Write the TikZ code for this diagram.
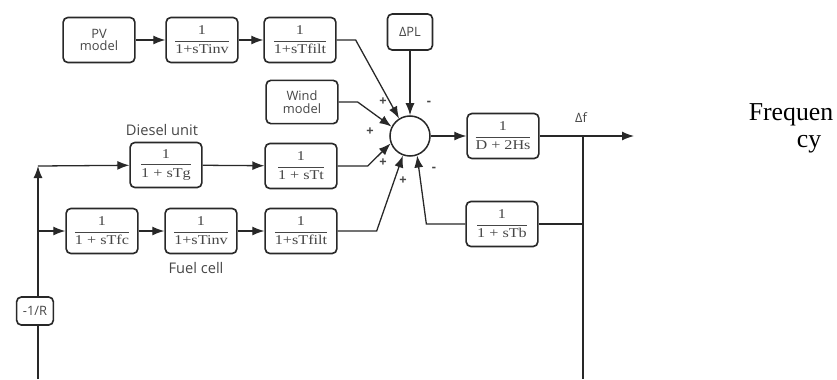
\documentclass[tikz,border=0pt]{standalone}
\usepackage{fontspec}
\setmainfont{Liberation Serif}
\newfontfamily\labfont{Open Sans}
\newfontfamily\fracfont[FakeStretch=1.2]{Liberation Serif}
\usepackage{xcolor}
\definecolor{lfline}{RGB}{40,40,40}
\definecolor{lftext}{RGB}{70,70,70}
\usepackage{tikz}
\usetikzlibrary{arrows.meta}

\newcommand{\tfblock}[1]{$\displaystyle\frac{\hbox{1}}{\hbox{#1}}$}

\begin{document}
\begin{tikzpicture}[x=0.3mm, y=-0.3mm,
  blk/.style={draw=lfline, line width=1.4pt, rounded corners=4pt, minimum width=21.5mm, minimum height=13.5mm, inner sep=1pt, text=lftext, font=\fracfont\fontsize{11.5}{12}\selectfont},
  lbl/.style={blk, align=center, font=\labfont\fontsize{11}{11}\selectfont},
  sumpt/.style={circle, draw=lfline, line width=1.3pt, minimum size=12mm, inner sep=0pt},
  wire/.style={draw=lfline, line width=1.1pt},
  arr/.style={wire, -{Latex[length=3.6mm, width=2.7mm]}},
  sgn/.style={text=lftext, font=\labfont\bfseries\fontsize{11}{11}\selectfont, inner sep=0pt},
  unitlbl/.style={text=lftext, font=\labfont\fontsize{12.5}{13}\selectfont, inner sep=0pt}]
  \useasboundingbox (0,0) rectangle (837,379);

  % blocks
  \node[lbl] (pv) at (99,40) {PV\\model};
  \node[blk] (inv1) at (202,40) {\tfblock{1+sTinv}};
  \node[blk] (filt1) at (300,40) {\tfblock{1+sTfilt}};
  \node[lbl, minimum width=13.5mm, minimum height=10.8mm] (dpl) at (410,32) {ΔPL};
  \node[lbl, minimum height=13mm] (wind) at (302,102) {Wind\\model};
  \node[sumpt] (sum) at (410,136) {};
  \node[blk] (gen) at (503,136) {\tfblock{D + 2Hs}};
  \node[blk] (tg) at (166,165) {\tfblock{1 + sTg}};
  \node[blk] (tt) at (301,166) {\tfblock{1 + sTt}};
  \node[blk] (fc) at (102,231) {\tfblock{1 + sTfc}};
  \node[blk] (inv2) at (201,231) {\tfblock{1+sTinv}};
  \node[blk] (filt2) at (301,231) {\tfblock{1+sTfilt}};
  \node[blk] (tb) at (502,224) {\tfblock{1 + sTb}};
  \node[lbl, minimum width=11mm, minimum height=8.4mm, inner sep=0.5pt] (gain) at (35,311) {-1/R};

  \coordinate (corner) at (38,166);
  \coordinate (botl) at (38,379);
  \coordinate (br) at (583,136);
  \coordinate (botr) at (583,379);
  \coordinate (out) at (634,136);

  % signal paths
  \draw[arr] (pv) -- (inv1);
  \draw[arr] (inv1) -- (filt1);
  \draw[arr] (filt1.east) -- ++(19,0) -- (sum.122);
  \draw[arr] (dpl) -- (sum);
  \draw[arr] (wind.east) -- ++(19,0) -- (sum.153);
  \draw[arr] (tg) -- (tt);
  \draw[arr] (tt.east) -- ++(30,0) -- (sum.201);
  \draw[arr] (fc) -- (inv2);
  \draw[arr] (inv2) -- (filt2);
  \draw[arr] (filt2.east) -- ++(39,0) -- (sum.250);
  \draw[arr] (sum) -- (gen);
  \draw[arr] (gen) -- (out);
  \draw[wire] (br) -- (botr);
  \draw[wire] (br |- tb) -- (tb.east);
  \draw[arr] (tb.west) -- ++(-39,0) -- (sum.290);
  \draw[wire] (botl) -- (botl |- gain.south);
  \draw[arr] (botl |- gain.north) -- (corner);
  \draw[arr] (corner) -- (tg);
  \draw[arr] (corner |- fc) -- (fc);

  % labels
  \node[sgn] (s1) at (383,102) {+};
  \node[sgn] (s2) at (429,103) {-};
  \node[sgn] (s3) at (370,132) {+};
  \node[sgn] (s4) at (383,163) {+};
  \node[sgn] (s5) at (403,181) {+};
  \node[sgn] (s6) at (434,169) {-};
  \node[unitlbl] (diesel) at (162,130) {Diesel unit};
  \node[unitlbl] (fuel) at (196,268) {Fuel cell};
  \node[unitlbl, font=\labfont\fontsize{11}{11}\selectfont] (df) at (581,118) {Δf};
  \node[anchor=base, inner sep=0pt, font=\fontsize{22}{24}\selectfont] (freq1) at (791,120) {Frequen};
  \node[anchor=base, inner sep=0pt, font=\fontsize{22}{24}\selectfont] (freq2) at (809,147) {cy};
\end{tikzpicture}
\end{document}
